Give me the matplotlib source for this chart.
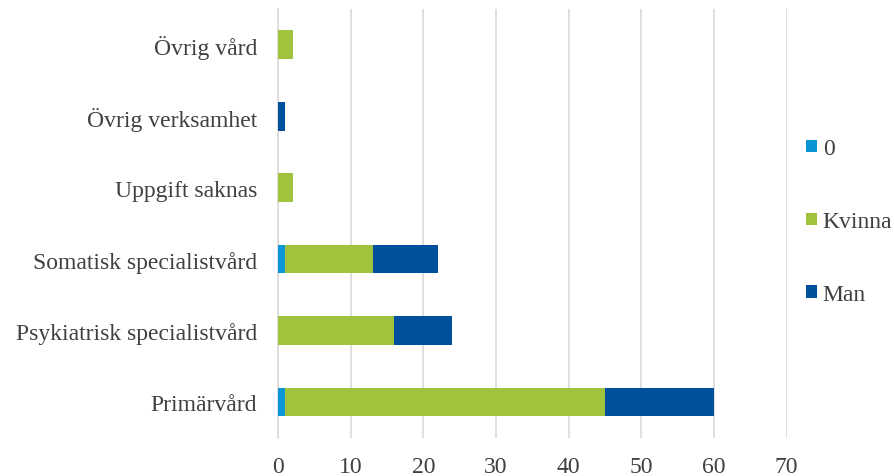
import matplotlib
matplotlib.use("Agg")
import matplotlib.pyplot as plt
import numpy as np

categories = ["Primärvård", "Psykiatrisk specialistvård", "Somatisk specialistvård",
              "Uppgift saknas", "Övrig verksamhet", "Övrig vård"]
series_names = ["0", "Kvinna", "Man"]
val_0 = [1, 0, 1, 0, 0, 0]
val_kvinna = [44, 16, 12, 2, 0, 2]
val_man = [15, 8, 9, 0, 1, 0]
colors = ["#0a96d6", "#9fc33c", "#00509e"]
x_ticks = [0, 10, 20, 30, 40, 50, 60, 70]

plt.rcParams['font.family'] = ['Liberation Serif', 'DejaVu Serif']

fig = plt.figure(figsize=(8.94, 4.77), dpi=100)
ax = fig.add_axes([0.311, 0.080, 0.569, 0.899])

y = np.arange(len(categories))
left = np.zeros(len(categories))
for name, vals, c in zip(series_names, [val_0, val_kvinna, val_man], colors):
    vals = np.array(vals, dtype=float)
    ax.barh(y, vals, left=left, height=0.4, color=c, label=name, zorder=3)
    left += vals

ax.set_xlim(0, 70)
ax.set_ylim(-0.5, len(categories) - 0.5)
ax.set_xticks(x_ticks)
ax.set_yticks(y)
ax.set_yticklabels(categories)
ax.tick_params(axis='both', length=0, labelsize=17, colors='#404040')
ax.tick_params(axis='x', pad=13)
ax.tick_params(axis='y', pad=15)
ax.grid(axis='x', color='#d9d9d9', linewidth=1.2, zorder=0)
for s in ['top', 'right', 'bottom']:
    ax.spines[s].set_visible(False)
ax.spines['left'].set_color('#d9d9d9')
ax.spines['left'].set_linewidth(1.2)

leg = fig.legend(loc='center left', bbox_to_anchor=(0.878, 0.533), frameon=False,
                 fontsize=17, handlelength=0.45, handleheight=0.45, handletextpad=0.25,
                 labelspacing=2.2, labelcolor='#404040')

fig.savefig("out.png", dpi=100)
